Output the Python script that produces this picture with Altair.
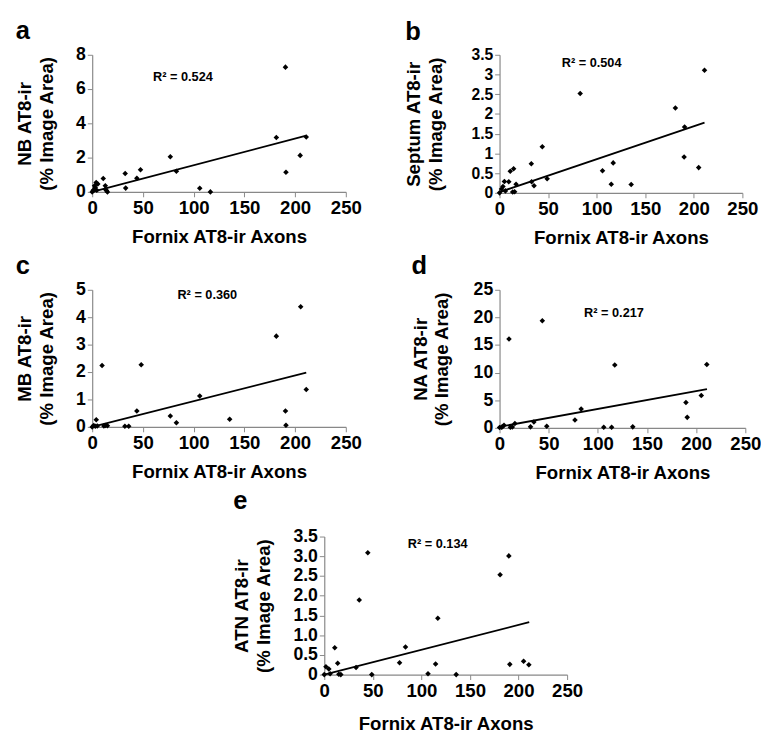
import altair as alt
import pandas as pd

FONT = "Liberation Sans"

# ---- data ----
x_ticks = [0, 50, 100, 150, 200, 250]
x_title = "Fornix AT8-ir Axons"

# a: NB
a_x = [0, 1, 2.3, 3, 3.9, 4.5, 5.5, 10.9, 12.9, 13, 14, 15, 32.5, 33, 44, 47.6, 77, 83, 106, 116.5, 181.5, 190.5, 191, 205, 211]
a_y = [0, 0.1, 0.36, 0.25, 0.55, 0.1, 0.46, 0.78, 0.36, 0.15, 0.08, 0, 1.07, 0.22, 0.79, 1.29, 2.05, 1.21, 0.21, 0.0, 3.17, 7.28, 1.14, 2.13, 3.2]
a_fit_x = [0, 211]
a_fit_y = [0.0, 3.28]
a_r2 = "R\u00b2 = 0.524"
a_r2_pos = [60, 6.7]
a_yticks = [0, 2, 4, 6, 8]
a_ytitle = ["NB AT8-ir", "(% Image Area)"]

# b: Septum
b_x = [0, 2, 3.5, 5, 9.5, 6, 11, 13.5, 14.5, 15.5, 17, 32.7, 33, 35.5, 44, 49, 83, 106, 115, 117, 135.5, 181, 190, 190.5, 205, 211]
b_y = [0, 0.1, 0.16, 0.29, 0.28, 0.05, 0.55, 0.02, 0.61, 0.03, 0.22, 0.74, 0.28, 0.18, 1.17, 0.36, 2.52, 0.56, 0.22, 0.76, 0.21, 2.15, 0.91, 1.67, 0.64, 3.11]
b_fit_x = [0, 211]
b_fit_y = [0.02, 1.78]
b_r2 = "R\u00b2 = 0.504"
b_r2_pos = [64, 3.3]
b_yticks = [0, 0.5, 1, 1.5, 2, 2.5, 3, 3.5]
b_ytitle = ["Septum AT8-ir", "(% Image Area)"]

# c: MB
c_x = [0, 1.5, 3, 4, 5, 9.7, 11.5, 13, 15, 32.2, 36, 44, 48.3, 77, 83, 106, 135.5, 181.5, 190.5, 191, 205.5, 211]
c_y = [0, 0.05, 0.02, 0.26, 0.03, 2.24, 0.03, 0.05, 0.04, 0.02, 0.02, 0.58, 2.27, 0.40, 0.15, 1.13, 0.28, 3.31, 0.58, 0.06, 4.38, 1.36]
c_fit_x = [0, 211]
c_fit_y = [0.0, 1.98]
c_r2 = "R\u00b2 = 0.360"
c_r2_pos = [84, 4.8]
c_yticks = [0, 1, 2, 3, 4, 5]
c_ytitle = ["MB AT8-ir", "(% Image Area)"]

# d: NA
d_x = [0, 2, 3, 4.5, 9.6, 11, 13, 15.6, 31.5, 34.9, 43.5, 48, 76.7, 83, 106, 114, 117.2, 135.5, 189.6, 190.9, 205.2, 210.8]
d_y = [0.05, 0.1, 0.2, 0.47, 16.1, 0.1, 0.15, 0.8, 0.18, 1.06, 19.4, 0.3, 1.42, 3.43, 0.12, 0.12, 11.4, 0.18, 4.6, 1.9, 5.85, 11.47]
d_fit_x = [0, 211]
d_fit_y = [0.2, 7.0]
d_r2 = "R\u00b2 = 0.217"
d_r2_pos = [86, 20.8]
d_yticks = [0, 5, 10, 15, 20, 25]
d_ytitle = ["NA AT8-ir", "(% Image Area)"]

# e: ATN
e_x = [0, 1.7, 4.7, 6, 10.8, 13.8, 15, 17, 32.7, 36, 44.8, 48.9, 77.5, 83.6, 106.8, 114.6, 116.9, 135.8, 181, 190, 191, 205.2, 210.6]
e_y = [0, 0.2, 0.14, 0.02, 0.68, 0.29, 0.01, 0.0, 0.18, 1.89, 3.09, 0.0, 0.30, 0.70, 0.02, 0.27, 1.43, 0.0, 2.53, 3.01, 0.26, 0.34, 0.25]
e_fit_x = [0, 211]
e_fit_y = [0.0, 1.33]
e_r2 = "R\u00b2 = 0.134"
e_r2_pos = [86, 3.3]
e_yticks = [0, 0.5, 1, 1.5, 2, 2.5, 3, 3.5]
e_ytitle = ["ATN AT8-ir", "(% Image Area)"]


def panel(letter, xs, ys, fit_x, fit_y, r2, r2_pos, yticks, ytitle, w, h,
          ylab_size=18, ylab_expr=None, ytitle_pad=20, title_offset=2, xtitle_pad=11):
    xsc = alt.Scale(domain=[0, 250], nice=False)
    ysc = alt.Scale(domain=[0, max(yticks)], nice=False)
    xax = alt.Axis(values=x_ticks, title=x_title, format="d", titlePadding=xtitle_pad,
                   labelOverlap=False, labelFlush=False, labelFontSize=19)
    yargs = dict(values=yticks, title=ytitle, labelFontSize=ylab_size,
                 titlePadding=ytitle_pad, labelOverlap=False, labelFlush=False)
    if ylab_expr:
        yargs["labelExpr"] = ylab_expr
    else:
        yargs["format"] = "~g"
    yax = alt.Axis(**yargs)
    enc = dict(x=alt.X("x:Q", scale=xsc, axis=xax), y=alt.Y("y:Q", scale=ysc, axis=yax))
    pts = alt.Chart(pd.DataFrame({"x": xs, "y": ys})).mark_point(
        shape="diamond", filled=True, color="black", size=32, opacity=1
    ).encode(**enc)
    line = alt.Chart(pd.DataFrame({"x": fit_x, "y": fit_y})).mark_line(
        color="black", strokeWidth=1.8
    ).encode(**enc)
    txt = alt.Chart(pd.DataFrame({"x": [r2_pos[0]], "y": [r2_pos[1]], "t": [r2]})).mark_text(
        align="left", baseline="middle", fontSize=13, fontWeight="bold", font=FONT, color="black"
    ).encode(text="t:N", **enc)
    return alt.layer(pts, line, txt).properties(
        width=w, height=h,
        title=alt.Title(letter, anchor="start", frame="bounds", fontSize=26,
                        fontWeight="bold", font=FONT, color="black", offset=title_offset),
    )


pa = panel("a", a_x, a_y, a_fit_x, a_fit_y, a_r2, a_r2_pos, a_yticks, a_ytitle, 259, 140)
pb = panel("b", b_x, b_y, b_fit_x, b_fit_y, b_r2, b_r2_pos, b_yticks, b_ytitle, 248, 141,
           ylab_size=16, ytitle_pad=26)
pc = panel("c", c_x, c_y, c_fit_x, c_fit_y, c_r2, c_r2_pos, c_yticks, c_ytitle, 259, 140)
pd_ = panel("d", d_x, d_y, d_fit_x, d_fit_y, d_r2, d_r2_pos, d_yticks, d_ytitle, 251, 141,
            ytitle_pad=22)
pe = panel("e", e_x, e_y, e_fit_x, e_fit_y, e_r2, e_r2_pos, e_yticks, e_ytitle, 248, 141,
           ylab_expr="datum.value == 0 ? '0' : format(datum.value, '.1f')",
           title_offset=14, xtitle_pad=15)

spacer = alt.Chart(pd.DataFrame({"v": [0]})).mark_point(opacity=0).encode(
    x=alt.X("v:Q", axis=None), y=alt.Y("v:Q", axis=None)
).properties(width=143, height=10)

row1 = alt.hconcat(pa, pb, spacing=44)
row2 = alt.hconcat(pc, pd_, spacing=50)
row3 = alt.hconcat(spacer, pe, spacing=0)

chart = alt.vconcat(row1, row2, row3, spacing=6).properties(
    padding={"left": 7, "top": 3, "right": 0, "bottom": 0},
    background="white",
).configure_view(stroke=None).configure_axis(
    grid=False,
    domainColor="#888888",
    domainWidth=1.2,
    tickColor="#888888",
    tickSize=5,
    labelFont=FONT,
    labelFontWeight="bold",
    labelFontSize=18,
    labelColor="black",
    labelPadding=2,
    titleFont=FONT,
    titleFontWeight="bold",
    titleFontSize=19,
    titleColor="black",
    titleLineHeight=22,
)

chart.save("out.html", embed_options={"renderer": "svg", "actions": False})
